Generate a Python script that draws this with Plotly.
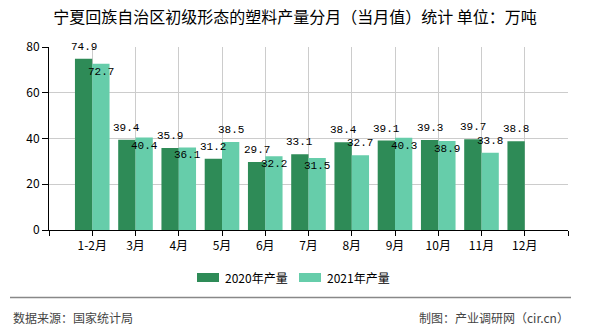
import plotly.graph_objects as go

# ---- data ----
categories = ["1-2月", "3月", "4月", "5月", "6月", "7月", "8月", "9月", "10月", "11月", "12月"]
prod_2020 = [74.9, 39.4, 35.9, 31.2, 29.7, 33.1, 38.4, 39.1, 39.3, 39.7, 38.8]
prod_2021 = [72.7, 40.4, 36.1, 38.5, 32.2, 31.5, 32.7, 40.3, 38.9, 33.8, None]
series_names = ["2020年产量", "2021年产量"]
y_ticks = [0, 20, 40, 60, 80]

# ---- style ----
W, H = 590, 330
ML, MR, MT, MB = 49, 22, 47, 100
PW, PH = W - ML - MR, H - MT - MB
C_DARK = "#2E8B57"
C_LIGHT = "#66CDAA"
CJK = "Noto Sans CJK SC"
MONO = "Liberation Mono"
BAR_W = 0.4
# label placement for the 2021 series (True = above bar, False = inside top)
light_label_above = [False, False, False, True, False, False, True, False, False, True, False]

def px2paper(px, py):
    return (px - ML) / PW, (MT + PH - py) / PH

xs = list(range(len(categories)))

fig = go.Figure()
fig.add_trace(go.Bar(x=xs, y=prod_2020, name=series_names[0], marker_color=C_DARK,
                     width=BAR_W, offset=-BAR_W, marker_line_width=0, showlegend=False))
fig.add_trace(go.Bar(x=xs, y=prod_2021, name=series_names[1], marker_color=C_LIGHT,
                     width=BAR_W, offset=0, marker_line_width=0, showlegend=False))

annotations = []
for i, v in enumerate(prod_2020):
    if v is None:
        continue
    annotations.append(dict(x=i - BAR_W / 2, y=v, xref="x", yref="y", text=f"{v:.1f}",
                            showarrow=False, yanchor="middle", yshift=12,
                            font=dict(family=MONO, size=11, color="#000")))
for i, v in enumerate(prod_2021):
    if v is None:
        continue
    annotations.append(dict(x=i + BAR_W / 2, y=v, xref="x", yref="y", text=f"{v:.1f}",
                            showarrow=False, yanchor="middle",
                            yshift=12 if light_label_above[i] else -8,
                            font=dict(family=MONO, size=11, color="#000")))

# custom legend
shapes = []
leg_items = [(197, C_DARK, series_names[0]), (299, C_LIGHT, series_names[1])]
for lx, col, name in leg_items:
    x0, y0 = px2paper(lx, 282)
    x1, y1 = px2paper(lx + 22, 273)
    shapes.append(dict(type="rect", xref="paper", yref="paper", x0=x0, y0=y0, x1=x1, y1=y1,
                       fillcolor=col, line=dict(width=0)))
    tx, ty = px2paper(lx + 26, 277.5)
    annotations.append(dict(x=tx, y=ty, xref="paper", yref="paper", text=name, showarrow=False,
                            xanchor="left", yanchor="middle",
                            font=dict(family=CJK, size=12, color="#000")))

# footer
fx0, fy = px2paper(10, 297.5)
fx1, _ = px2paper(571, 297.5)
shapes.append(dict(type="line", xref="paper", yref="paper", x0=fx0, x1=fx1, y0=fy, y1=fy,
                   line=dict(color="#888888", width=1.5)))
lx, ly = px2paper(11, 317)
annotations.append(dict(x=lx, y=ly, xref="paper", yref="paper", text="数据来源：国家统计局",
                        showarrow=False, xanchor="left", yanchor="middle",
                        font=dict(family=CJK, size=12, color="#444")))
rx, ry = px2paper(571, 317)
annotations.append(dict(x=rx, y=ry, xref="paper", yref="paper", text="制图：产业调研网（cir.cn）",
                        showarrow=False, xanchor="right", yanchor="middle",
                        font=dict(family=CJK, size=12, color="#444")))

fig.update_layout(
    width=W, height=H,
    margin=dict(l=ML, r=MR, t=MT, b=MB),
    paper_bgcolor="white", plot_bgcolor="white",
    barmode="overlay",
    title=dict(text="宁夏回族自治区初级形态的塑料产量分月（当月值）统计 单位：万吨",
               x=0.5, xanchor="center", y=1 - 17 / H, yanchor="middle",
               font=dict(family=CJK, size=16, color="#000")),
    xaxis=dict(range=[-1, len(categories)],
               tickmode="array",
               tickvals=[-1] + xs + [len(categories)],
               ticktext=[""] + categories + [""],
               showgrid=True, gridcolor="#cccccc", gridwidth=1,
               showline=True, linecolor="#000", linewidth=1,
               ticks="outside", ticklen=5, tickcolor="#000",
               tickfont=dict(family=CJK, size=12, color="#000"),
               zeroline=False, fixedrange=True),
    yaxis=dict(range=[0, 80], tickvals=y_ticks,
               showgrid=True, gridcolor="#cccccc", gridwidth=1,
               showline=True, linecolor="#000", linewidth=1,
               ticks="outside", ticklen=6, tickcolor="#000",
               tickfont=dict(family=CJK, size=12, color="#000"),
               zeroline=False, fixedrange=True),
    annotations=annotations,
    shapes=shapes,
    showlegend=False,
)

fig.write_html("out.html")
